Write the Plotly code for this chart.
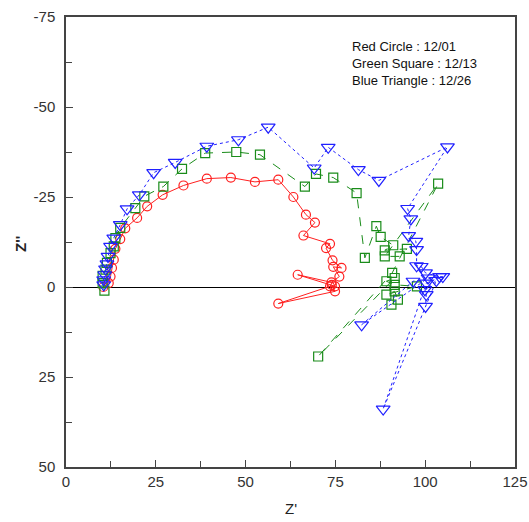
import plotly.graph_objects as go

# Red Circle : 12/01
red_x = [10.4, 11.9, 12.4, 12.8, 13.3, 13.75, 15.1, 16.5, 19.8, 22.6, 26.9, 32.7, 39.2, 45.9, 52.6, 59.1,
         63.3, 66.8, 69.3, 66.1, 73.5, 72.4, 74.2, 76.7, 74.4, 76.1, 73.9, 64.5, 74.9, 73.5, 59.1, 74.9, 74.0]
red_y = [0.0, -1.1, -2.9, -5.3, -7.6, -10.6, -13.3, -16.3, -19.2, -22.4, -25.6, -28.2, -30.1, -30.4, -29.2, -29.8,
         -25.0, -20.1, -17.9, -14.3, -12.0, -10.8, -7.4, -5.3, -5.6, -2.9, -1.3, -3.4, -0.2, -0.2, 4.6, 1.2, -0.6]

# Green Square : 12/13
green_x = [10.7, 10.2, 10.2, 11.0, 11.4, 12.4, 13.3, 13.75, 15.1, 19.3, 21.8, 27.1, 32.3, 38.75, 47.4, 54.0,
           66.5, 69.6, 74.4, 80.9, 83.2, 86.4, 87.6, 91.1, 88.75, 94.9, 92.9, 88.75, 103.6, 90.8, 70.2,
           91.5, 89.2, 91.5, 97.7, 89.2, 91.5, 92.4, 90.6]
green_y = [1.0, -1.1, -3.1, -4.8, -6.7, -9.4, -11.3, -13.6, -16.4, -21.9, -25.2, -27.9, -32.8, -37.2, -37.5, -36.75,
           -27.9, -31.4, -30.4, -26.1, -8.1, -16.9, -13.9, -11.6, -10.2, -10.6, -8.5, -8.5, -28.7, -3.9, 19.3,
           -2.5, -1.6, -0.6, -0.2, 2.1, 1.2, 3.5, 4.9]

# Blue Triangle : 12/26
blue_x = [10.5, 10.5, 10.8, 11.0, 11.4, 11.7, 12.4, 13.3, 15.1, 17.0, 20.4, 24.4, 30.4, 39.2, 48.0, 56.3,
          69.1, 73.0, 81.4, 87.1, 106.2, 95.1, 96.0, 95.4, 97.4, 97.6, 97.6, 98.9, 100.1, 104.0, 96.6,
          82.3, 100.8, 104.9, 100.3, 88.3, 103.1, 99.9, 100.3, 100.1]
blue_y = [-0.6, -2.0, -3.4, -5.0, -6.4, -8.5, -11.3, -13.6, -17.3, -21.7, -25.6, -31.75, -34.6, -39.1, -40.9, -44.4,
          -33.05, -38.8, -32.6, -29.6, -38.9, -21.8, -18.9, -14.25, -12.7, -10.4, -5.9, -5.7, -3.9, -2.9, -1.6,
          10.5, -2.5, -2.9, -1.1, 33.9, -1.8, 0.75, 2.1, 5.4]

legend_lines = ["Red Circle : 12/01", "Green Square : 12/13", "Blue Triangle : 12/26"]
x_ticks = [0, 25, 50, 75, 100, 125]
x_tick_text = ["0", "25", "50", "75", "100", "125"]
y_ticks = [-75, -50, -25, 0, 25, 50]
y_tick_text = ["-75", "-50", "-25", "0", "25", "50"]

FONT = "Liberation Sans, Arial"

fig = go.Figure()
fig.add_trace(go.Scatter(x=red_x, y=red_y, mode="lines+markers",
                         line=dict(color="#FF2020", width=1),
                         marker=dict(symbol="circle-open", size=9, color="#FF2020", line=dict(width=1.2))))
fig.add_trace(go.Scatter(x=green_x, y=green_y, mode="lines+markers",
                         line=dict(color="#1A8C1A", width=1, dash="dash"),
                         marker=dict(symbol="square-open", size=9, color="#1A8C1A", line=dict(width=1.2))))
fig.add_trace(go.Scatter(x=blue_x, y=blue_y, mode="lines+markers",
                         line=dict(color="#2020FF", width=1, dash="dot"),
                         marker=dict(symbol="triangle-down-open", size=12, color="#2020FF", line=dict(width=1.2))))

for i, t in enumerate(legend_lines):
    fig.add_annotation(x=0.632, y=0.934 - i * 0.038, xref="paper", yref="paper", text=t,
                       showarrow=False, xanchor="left", yanchor="middle",
                       font=dict(family=FONT, size=13, color="#111"))

# axis titles
fig.add_annotation(x=0.5, y=-0.092, xref="paper", yref="paper", text="Z'", showarrow=False,
                   xanchor="center", yanchor="middle", font=dict(family=FONT, size=15, color="#222"))
fig.add_annotation(x=-0.101, y=0.495, xref="paper", yref="paper", text="<b>Z''</b>", showarrow=False,
                   textangle=-90, xanchor="center", yanchor="middle", font=dict(family=FONT, size=15, color="#222"))

axis_common = dict(showline=True, mirror=True, linecolor="#444", linewidth=1.5,
                   ticks="inside", ticklen=7, tickcolor="#444", tickwidth=1, automargin=False,
                   showgrid=False, tickfont=dict(family=FONT, size=15, color="#333"))

fig.update_xaxes(range=[0, 125], tickvals=x_ticks, ticktext=x_tick_text, zeroline=False,
                 minor=dict(dtick=12.5, ticks="inside", ticklen=6, tickcolor="#444", showgrid=False),
                 **axis_common)
fig.update_yaxes(range=[50, -75], tickvals=y_ticks, ticktext=y_tick_text, ticklabelstandoff=6,
                 zeroline=True, zerolinecolor="black", zerolinewidth=1,
                 minor=dict(dtick=12.5, ticks="inside", ticklen=6, tickcolor="#444", showgrid=False),
                 **axis_common)

fig.update_layout(width=529, height=522, showlegend=False,
                  plot_bgcolor="white", paper_bgcolor="white",
                  margin=dict(l=65.5, r=13.5, t=17.3, b=54.7))

fig.write_html("out.html", config={"displayModeBar": False},
               post_script="document.body.style.margin='0';document.body.style.overflow='hidden';")
